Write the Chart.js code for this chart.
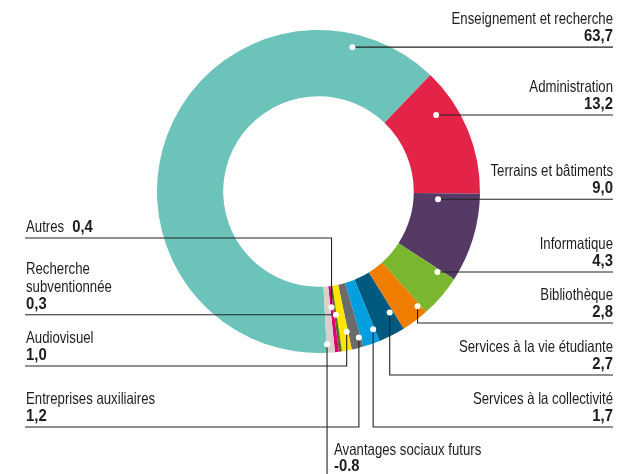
<!DOCTYPE html>
<html>
<head>
<meta charset="utf-8">
<script src="https://cdn.jsdelivr.net/npm/chart.js@4.4.1/dist/chart.umd.min.js"></script>
<style>
  html, body { margin: 0; padding: 0; background: #fff; }
  canvas { display: block; }
</style>
</head>
<body>
<canvas id="myChart" width="618" height="474"></canvas>
<script>
// chart data
const categories = [
  'Enseignement et recherche', 'Administration', 'Terrains et bâtiments', 'Informatique',
  'Bibliothèque', 'Services à la vie étudiante', 'Services à la collectivité',
  'Entreprises auxiliaires', 'Audiovisuel', 'Recherche subventionnée', 'Autres',
  'Avantages sociaux futurs'
];
const values = [63.7, 13.2, 9.0, 4.3, 2.8, 2.7, 1.7, 1.2, 1.0, 0.3, 0.4, -0.8];
const valueLabels = ['63,7', '13,2', '9,0', '4,3', '2,8', '2,7', '1,7', '1,2', '1,0', '0,3', '0,4', '-0.8'];

const colors = [
  '#6cc3b9', '#e42349', '#553a66', '#7ab72f', '#ef7d00', '#005a80',
  '#009fe0', '#6b6b6b', '#ffe600', '#5b6c1d', '#e2007a', '#d7d0cb'
];

// where each callout sits: side, line kind, line y, dot position inside its slice
const callouts = [
  { side: 'right', kind: 'h', at: 0.865, frac: 0.80 },
  { side: 'right', kind: 'h', at: 0.28, frac: 0.68 },
  { side: 'right', kind: 'h', at: 0.09, frac: 0.37 },
  { side: 'right', kind: 'h', at: 0.08, frac: 0.73 },
  { side: 'right', kind: 'v', y: 323, at: 0.1, frac: 0.85 },
  { side: 'right', kind: 'v', y: 375, at: 0.14, frac: 0.68 },
  { side: 'right', kind: 'v', y: 427, at: 0.1, frac: 0.80 },
  { side: 'left', kind: 'v', y: 427, at: 0.17, frac: 0.85 },
  { side: 'left', kind: 'v', y: 366, at: 0.15, frac: 0.72 },
  { side: 'left', kind: 'h', at: 0.3, frac: 0.44, wrap: true },
  { side: 'left', kind: 'v', y: 238, at: 0.6, frac: 0.32, inline: true },
  { side: 'down', kind: 'down', at: 0.93, frac: 0.87 }
];

const FONT = '"Liberation Sans", Arial, sans-serif';
const SQUEEZE = 0.8;     // condensed look for names
const SQUEEZE_VAL = 0.9; // values are a bit wider
const textColor = '#1d1d1b';
const lineColor = '#222';

function text(ctx, str, x, y, align, sx) {
  ctx.save();
  ctx.translate(x, y);
  ctx.scale(sx, 1);
  ctx.textAlign = align;
  ctx.fillText(str, 0, 0);
  ctx.restore();
}

const calloutPlugin = {
  id: 'callouts',
  afterDatasetsDraw(chart) {
    const ctx = chart.ctx;
    const arcs = chart.getDatasetMeta(0).data;
    const H = chart.height;
    const rightX = 613, leftX = 25;
    const nameFont = '16.5px ' + FONT;
    const valFont = 'bold 16.5px ' + FONT;
    ctx.save();
    arcs.forEach((arc, i) => {
      const c = callouts[i];
      const p = arc.getProps(['x', 'y', 'startAngle', 'endAngle', 'innerRadius', 'outerRadius'], true);
      const a = p.startAngle + c.at * (p.endAngle - p.startAngle);
      const r = p.innerRadius + c.frac * (p.outerRadius - p.innerRadius);
      const dx = p.x + r * Math.cos(a);
      const dy = p.y + r * Math.sin(a);
      const lineY = c.kind === 'h' ? dy : c.y;

      ctx.strokeStyle = lineColor;
      ctx.lineWidth = 1.1;
      ctx.beginPath();
      ctx.moveTo(dx, dy);
      if (c.kind === 'down') {
        ctx.lineTo(dx, H);
      } else {
        ctx.lineTo(dx, lineY);
        ctx.lineTo(c.side === 'right' ? rightX : leftX, lineY);
      }
      ctx.stroke();

      ctx.fillStyle = '#fff';
      ctx.beginPath();
      ctx.arc(dx, dy, 3, 0, Math.PI * 2);
      ctx.fill();

      // texts
      ctx.fillStyle = textColor;
      ctx.textBaseline = 'alphabetic';
      if (c.kind === 'down') {
        ctx.font = nameFont;
        text(ctx, categories[i], dx + 7, H - 19, 'left', SQUEEZE);
        ctx.font = valFont;
        text(ctx, valueLabels[i], dx + 7, H - 3, 'left', SQUEEZE_VAL);
      } else if (c.inline) {
        ctx.font = nameFont;
        text(ctx, categories[i], leftX + 1, lineY - 6, 'left', SQUEEZE);
        const w = ctx.measureText(categories[i]).width * SQUEEZE;
        ctx.font = valFont;
        text(ctx, valueLabels[i], leftX + 1 + w + 8, lineY - 6, 'left', SQUEEZE_VAL);
      } else {
        const x = c.side === 'right' ? rightX : leftX + 1;
        const align = c.side === 'right' ? 'right' : 'left';
        ctx.font = valFont;
        text(ctx, valueLabels[i], x, lineY - 6, align, SQUEEZE_VAL);
        ctx.font = nameFont;
        const lines = c.wrap ? categories[i].split(' ') : [categories[i]];
        lines.reverse().forEach((ln, k) => {
          text(ctx, ln, x, lineY - 23 - k * 17.5, align, SQUEEZE);
        });
      }
    });
    ctx.restore();
  }
};

new Chart(document.getElementById('myChart'), {
  type: 'doughnut',
  data: {
    labels: categories,
    datasets: [{
      data: values,
      backgroundColor: colors,
      borderWidth: 0
    }]
  },
  options: {
    responsive: false,
    animation: false,
    rotation: 177,
    cutout: '59%',
    layout: { padding: { left: 157, right: 138, top: 30, bottom: 121 } },
    plugins: {
      legend: { display: false },
      tooltip: { enabled: false }
    }
  },
  plugins: [calloutPlugin]
});
</script>
</body>
</html>
